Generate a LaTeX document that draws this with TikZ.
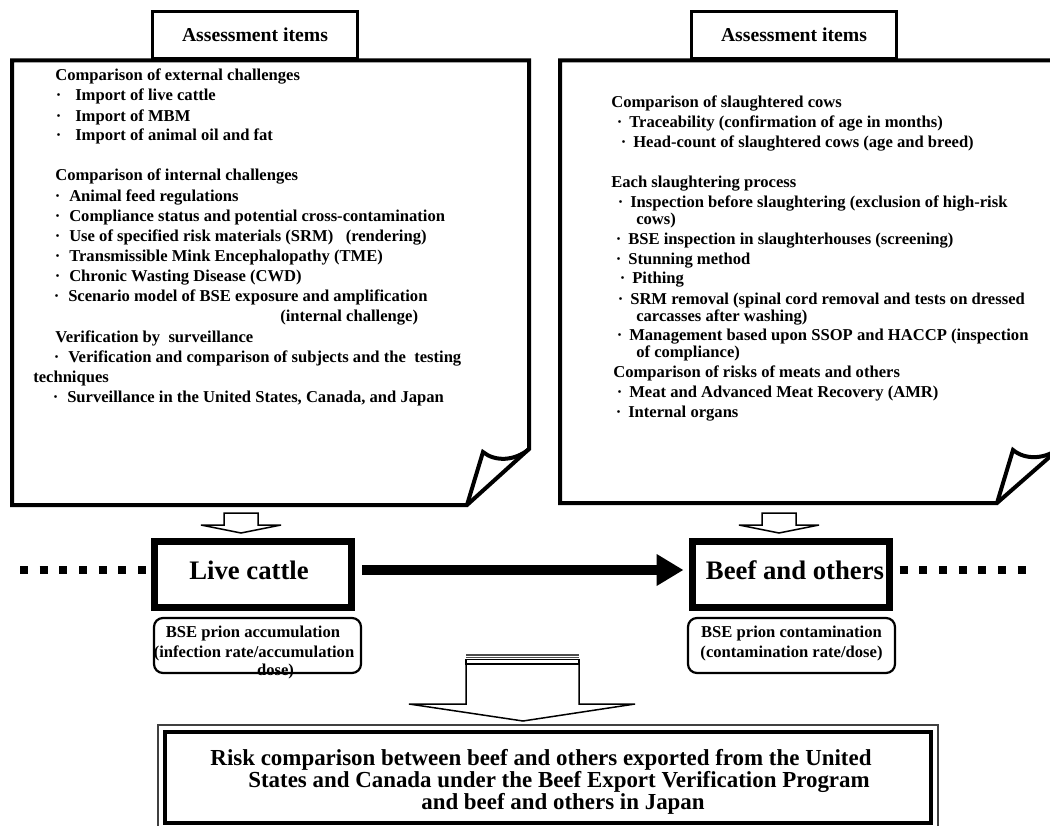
\documentclass[tikz,border=0pt]{standalone}
\usepackage{fontspec}
\setmainfont{Liberation Serif}
\usetikzlibrary{arrows.meta,calc}
\newlength{\px}\setlength{\px}{0.025cm}
\newcommand{\bul}[1][6.3pt]{\llap{·\hspace{#1}}}

\begin{document}
\begin{tikzpicture}[x=1\px, y=-1\px,
  txt/.style={anchor=base west, inner sep=0pt, font=\fontsize{11.8}{14.2}\selectfont\bfseries},
  ctxt/.style={txt, anchor=base},
  tab/.style={draw, line width=3\px, minimum width=205\px, minimum height=47\px, inner sep=0pt, font=\fontsize{14}{16}\selectfont\bfseries},
  frame/.style={line width=4\px, line join=miter},
  bigbox/.style={draw, line width=7\px, minimum width=197\px, minimum height=66\px, inner sep=0pt},
  biglbl/.style={ctxt, font=\fontsize{19}{22}\selectfont\bfseries},
  pill/.style={draw, rounded corners=9\px, line width=2.2\px, minimum width=207\px, minimum height=55\px, inner sep=0pt},
  hollow/.style={draw, fill=white, line width=1.5\px, line join=miter},
  flow/.style={line width=10\px, -{Triangle[length=19.1pt, width=21.3pt]}},
  dots/.style={line width=8\px, dash pattern=on 8\px off 11.67\px},
  resbox/.style={draw, line width=3.5\px, minimum width=766\px, minimum height=91\px, inner sep=0pt},
  restxt/.style={ctxt, font=\fontsize{16.3}{15.6}\selectfont\bfseries}]
\useasboundingbox (0,0) rectangle (1050,826);
\path[fill=white] (0,0) rectangle (1050,826);

% left sheet
\draw[frame] (467,505) -- (12,505) -- (12,60.5) -- (529,60.5) -- (529,449) -- cycle;
\draw[frame] (467,505) -- (483,452) .. controls (495,462) and (515,461) .. (529,449);
\node[tab] (tabL) at (255,35) {Assessment items};
\node[txt] (ext) at (55,81) {Comparison of external challenges};
\node[txt] (ext1) at (75,101) {\bul[9.9pt]Import of live cattle};
\node[txt] (ext2) at (75,122) {\bul[9.9pt]Import of MBM};
\node[txt] (ext3) at (75,141) {\bul[9.9pt]Import of animal oil and fat};
\node[txt] (int) at (55,181) {Comparison of internal challenges};
\node[txt] (int1) at (69,202) {\bul Animal feed regulations};
\node[txt] (int2) at (69,222) {\bul Compliance status and potential cross-contamination};
\node[txt] (int3) at (69,242) {\bul Use of specified risk materials (SRM)~~~(rendering)};
\node[txt] (int4) at (69,262) {\bul Transmissible Mink Encephalopathy (TME)};
\node[txt] (int5) at (69,282) {\bul Chronic Wasting Disease (CWD)};
\node[txt] (int6) at (68,302) {\bul Scenario model of BSE exposure and amplification};
\node[txt] (int7) at (280,322) {(internal challenge)};
\node[txt] (ver) at (55,342) {Verification by~~surveillance};
\node[txt] (ver1) at (68,362) {\bul Verification and comparison of subjects and the~~testing};
\node[txt] (ver2) at (33,382) {techniques};
\node[txt] (ver3) at (67,402) {\bul Surveillance in the United States, Canada, and Japan};

% right sheet
\draw[frame] (997,503) -- (560,503) -- (560,60.5) -- (1061,60.5) -- (1061,447) -- cycle;
\draw[frame] (997,503) -- (1013,450) .. controls (1025,460) and (1045,460) .. (1061,447);
\node[tab] (tabR) at (794,35) {Assessment items};
\node[txt] (slg) at (611,108) {Comparison of slaughtered cows};
\node[txt] (slg1) at (629,128) {\bul[4.9pt]Traceability (confirmation of age in months)};
\node[txt] (slg2) at (633,148) {\bul[4.9pt]Head-count of slaughtered cows (age and breed)};
\node[txt] (proc) at (611,188) {Each slaughtering process};
\node[txt] (proc1) at (630,208) {\bul[4.9pt]Inspection before slaughtering (exclusion of high-risk};
\node[txt] (proc1b) at (636,225) {cows)};
\node[txt] (proc2) at (628,245) {\bul[4.9pt]BSE inspection in slaughterhouses (screening)};
\node[txt] (proc3) at (628,265) {\bul[4.9pt]Stunning method};
\node[txt] (proc4) at (632,284) {\bul[4.9pt]Pithing};
\node[txt] (proc5) at (630,305) {\bul[4.9pt]SRM removal (spinal cord removal and tests on dressed};
\node[txt] (proc5b) at (636,321) {carcasses after washing)};
\node[txt] (proc6) at (629,341) {\bul[4.9pt]Management based upon SSOP and HACCP (inspection};
\node[txt] (proc6b) at (636,357) {of compliance)};
\node[txt] (risk) at (613,377) {Comparison of risks of meats and others};
\node[txt] (risk1) at (629,397) {\bul[4.9pt]Meat and Advanced Meat Recovery (AMR)};
\node[txt] (risk2) at (628,417) {\bul[4.9pt]Internal organs};

% small arrows
\draw[hollow] (224,513) -- (258,513) -- (258,525) -- (281,525) -- (241,533) -- (201,525) -- (224,525) -- cycle;
\draw[hollow] (762,513) -- (796,513) -- (796,525) -- (819,525) -- (779,533) -- (739,525) -- (762,525) -- cycle;

% stages
\node[bigbox] (cattle) at (253,574.5) {};
\node[biglbl] (cattlelbl) at (249,579) {Live cattle};
\node[bigbox] (beef) at (790.5,574.5) {};
\node[biglbl] (beeflbl) at (795,579) {Beef and others};
\coordinate (lfree) at (20,570);
\coordinate (rfree) at (1026,570);
\draw[dots] (lfree) -- ($(lfree -| cattle.west)+(-5,0)$);
\draw[dots] ($(rfree -| beef.east)+(7,0)$) -- (rfree);
\draw[flow] ($(lfree -| cattle.east)+(7,0)$) -- ($(lfree -| beef.west)+(-5,0)$);

\node[ctxt] (acc1) at (253,637) {BSE prion accumulation};
\node[ctxt] (acc2) at (254,657) {(infection rate/accumulation};
\node[ctxt] (acc3) at (275.5,675) {dose)};
\node[pill] (acc) at (257.5,645.5) {};
\node[ctxt] (cont1) at (791.5,637) {BSE prion contamination};
\node[ctxt] (cont2) at (791.5,657) {(contamination rate/dose)};
\node[pill] (cont) at (791.5,645.5) {};

% big arrow
\draw[line width=1.2\px, black!70] (466,655) -- (579,655) (466,657.5) -- (579,657.5);
\draw[hollow] (466,659.5) rectangle (579,664);
\draw[hollow] (466,664) -- (579,664) -- (579,704) -- (635,704) -- (523,721) -- (409,704) -- (466,704) -- cycle;

% result
\node[resbox] (result) at (548,777.5) {};
\draw[line width=1.7\px, black!75] ($(result.north west)+(-5,-5)$) rectangle ($(result.south east)+(5,5)$);
\node[restxt] (res1) at (541,765) {Risk comparison between beef and others exported from the United};
\node[restxt] (res2) at (559,787) {States and Canada under the Beef Export Verification Program};
\node[restxt] (res3) at (563,809) {and beef and others in Japan};
\end{tikzpicture}
\end{document}
